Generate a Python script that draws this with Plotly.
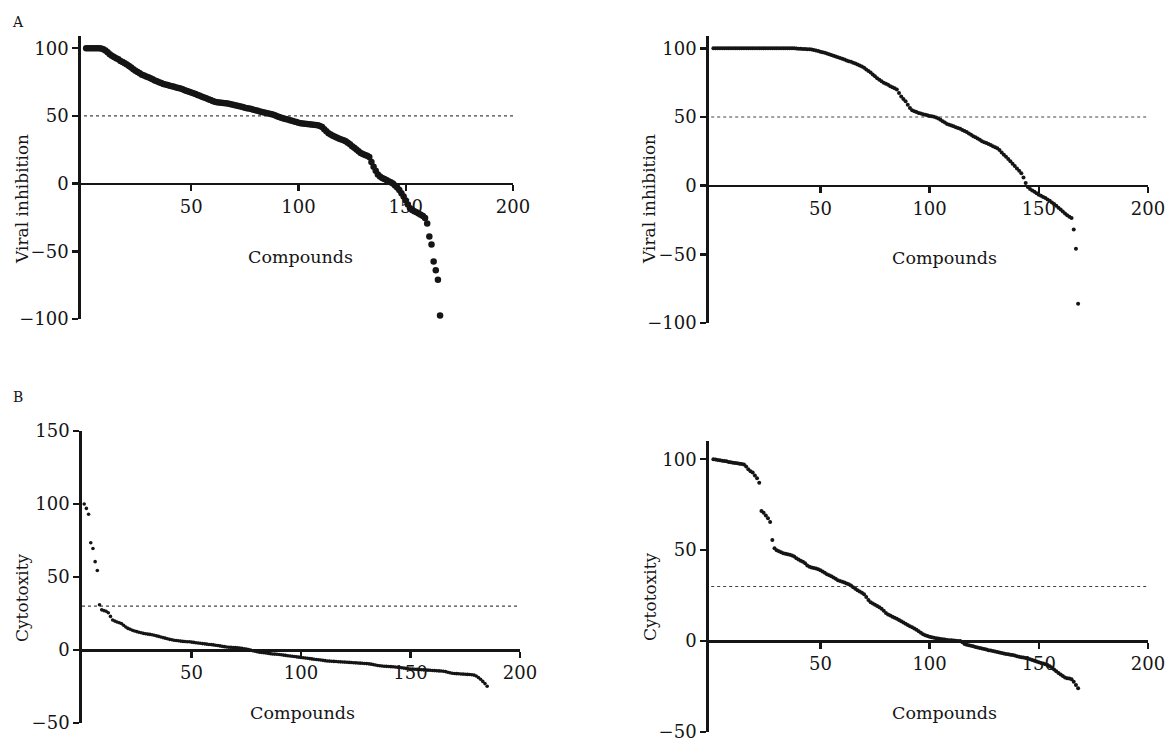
import plotly.graph_objects as go

# ---------------- DATA ----------------
compounds_label = "Compounds"
viral_title = "Viral inhibition"
cyto_title = "Cytotoxity"
panel_letters = ["A", "B"]

x_ticks = [50, 100, 150, 200]
viral_y_ticks = [-100, -50, 0, 50, 100]
cyto_left_y_ticks = [-50, 0, 50, 100, 150]
cyto_right_y_ticks = [-50, 0, 50, 100]

viral_threshold = 50
cyto_threshold = 30

viral_left = [
    100, 100, 100, 100, 100, 100, 100, 99.8, 99.3, 98.3,
    97.0, 95.5, 94.5, 93.5, 92.6, 91.8, 90.6, 89.8, 88.9, 87.9,
    86.8, 85.7, 84.5, 83.3, 82.5, 81.4, 80.4, 79.8, 79.1, 78.5,
    77.8, 77.0, 76.2, 75.5, 74.8, 74.2, 73.6, 73.2, 72.8, 72.3,
    71.9, 71.5, 71.0, 70.6, 70.2, 69.6, 69.0, 68.4, 67.8, 67.3,
    66.7, 66.1, 65.5, 64.8, 64.2, 63.6, 63.0, 62.3, 61.7, 61.0,
    60.4, 60.1, 59.9, 59.7, 59.5, 59.4, 59.1, 58.7, 58.4, 58.0,
    57.7, 57.3, 56.9, 56.5, 56.1, 55.7, 55.4, 55.0, 54.6, 54.2,
    53.8, 53.3, 52.9, 52.5, 52.2, 51.8, 51.4, 51.0, 50.5, 49.8,
    49.1, 48.6, 48.1, 47.7, 47.3, 46.8, 46.4, 45.9, 45.4, 45.0,
    44.6, 44.4, 44.2, 44.0, 43.8, 43.6, 43.4, 43.2, 43.0, 42.6,
    41.8, 40.2, 38.6, 37.2, 36.2, 35.4, 34.6, 33.8, 33.2, 32.6,
    32.0, 31.2, 30.2, 29.0, 27.6, 26.4, 25.2, 23.8, 22.6, 21.8,
    21.2, 20.6, 19.6, 16.0, 12.5, 9.5, 6.8, 5.2, 4.2, 3.4,
    2.6, 1.8, 1.0, 0.0, -1.4, -2.8, -4.8, -7.2, -9.5, -12.5,
    -15.5, -18.2, -19.5, -20.5, -21.2, -22.0, -23.0, -24.0, -25.5, -29.5,
    -39.0, -45.0, -57.5, -64.0, -71.0, -97.5,
]

viral_right = [
    100, 100, 100, 100, 100, 100, 100, 100, 100, 100,
    100, 100, 100, 100, 100, 100, 100, 100, 100, 100,
    100, 100, 100, 100, 100, 100, 100, 100, 100, 100,
    100, 100, 100, 100, 100, 100, 100, 100, 99.9, 99.8,
    99.7, 99.6, 99.5, 99.4, 99.3, 99.1, 98.8, 98.4, 98.0, 97.6,
    97.2, 96.8, 96.3, 95.8, 95.2, 94.6, 94.0, 93.5, 93.0, 92.4,
    91.8, 91.2, 90.7, 90.2, 89.6, 89.0, 88.3, 87.6, 86.8, 85.8,
    84.6, 83.5, 82.5, 81.0, 79.6, 78.2, 77.2, 76.0, 74.9, 74.2,
    73.5, 72.4, 71.6, 70.9, 70.0, 67.5, 65.0, 63.2, 61.5, 59.0,
    56.5, 55.0, 54.2, 53.6, 53.0, 52.5, 52.1, 51.7, 51.2, 50.8,
    50.5, 50.2, 49.6, 48.9, 48.0, 47.0, 46.0, 45.0, 44.3, 43.8,
    43.2, 42.6, 42.0, 41.4, 40.6, 39.8, 39.0, 38.0, 37.0, 36.0,
    35.2, 34.4, 33.4, 32.4, 31.6, 31.0, 30.3, 29.6, 28.8, 28.0,
    27.2, 26.0, 24.2, 22.5, 21.0, 19.4, 17.8, 16.0, 14.4, 12.6,
    10.8, 9.0, 6.0, 2.0, -1.0, -2.5, -3.5, -4.5, -5.6, -6.6,
    -7.4, -8.2, -9.0, -10.0, -11.0, -12.2, -13.4, -14.6, -16.0, -17.4,
    -18.8, -20.2, -21.6, -22.6, -23.5, -32.0, -46.0, -86.0,
]

cyto_left = [
    100, 97, 93, 73.5, 69.5, 60.5, 54.5, 31, 27.5, 27,
    26.5, 25.5, 23, 20.5, 19.8, 19.2, 18.7, 18.2, 17, 15.8,
    14.8, 14.2, 13.5, 13, 12.6, 12.2, 11.8, 11.4, 11.1, 10.9,
    10.7, 10.4, 10.1, 9.7, 9.3, 8.9, 8.5, 8.1, 7.7, 7.3,
    7.0, 6.7, 6.5, 6.3, 6.1, 5.9, 5.8, 5.7, 5.6, 5.4,
    5.2, 5.0, 4.8, 4.6, 4.4, 4.2, 4.0, 3.8, 3.7, 3.5,
    3.3, 3.1, 2.8, 2.5, 2.3, 2.1, 1.9, 1.8, 1.7, 1.6,
    1.5, 1.3, 1.1, 0.9, 0.6, 0.3, -0.1, -0.5, -0.9, -1.2,
    -1.5, -1.7, -1.9, -2.1, -2.3, -2.5, -2.7, -2.8, -2.9, -3.1,
    -3.3, -3.5, -3.7, -3.9, -4.1, -4.3, -4.5, -4.7, -4.9, -5.1,
    -5.3, -5.5, -5.7, -5.9, -6.1, -6.3, -6.5, -6.7, -6.9, -7.1,
    -7.3, -7.5, -7.6, -7.7, -7.8, -7.9, -8.0, -8.1, -8.2, -8.3,
    -8.4, -8.5, -8.6, -8.7, -8.8, -8.9, -9.0, -9.1, -9.2, -9.3,
    -9.5, -9.7, -10.0, -10.3, -10.6, -10.8, -11.0, -11.1, -11.2, -11.3,
    -11.4, -11.5, -11.6, -11.8, -12.0, -12.2, -12.4, -12.6, -12.8, -13.0,
    -13.1, -13.2, -13.3, -13.4, -13.5, -13.6, -13.7, -13.8, -13.9, -14.0,
    -14.1, -14.2, -14.3, -14.4, -14.6, -14.8, -15.2, -15.6, -15.9, -16.1,
    -16.2, -16.3, -16.4, -16.5, -16.6, -16.7, -16.8, -17.0, -17.2, -17.8,
    -18.8, -20.0, -21.5, -23.0, -24.8,
]

cyto_right = [
    100, 99.8, 99.6, 99.4, 99.2, 99.0, 98.8, 98.5, 98.3, 98.1,
    97.9, 97.7, 97.5, 97.3, 97.1, 96.0, 94.5, 93.3, 92.7, 91.0,
    89.5, 87.0, 71.5, 70.5, 69.0, 67.5, 65.5, 55.5, 51.0, 50.0,
    49.4, 48.8, 48.3, 48.0, 47.7, 47.4, 47.0, 46.5, 45.6, 44.8,
    44.2, 43.6, 42.8, 41.5, 40.8, 40.5, 40.2, 39.9, 39.5, 38.9,
    38.2, 37.5, 36.8, 36.2, 35.6, 35.0, 34.2, 33.5, 33.0, 32.6,
    32.2, 31.7, 31.2, 30.5, 29.6, 28.8, 28.0, 27.3, 26.6, 25.8,
    24.2, 22.6, 21.4, 20.6, 20.0, 19.3, 18.6, 17.8, 16.6, 15.4,
    14.6, 14.0, 13.4, 12.8, 12.2, 11.6, 10.9, 10.2, 9.5, 8.8,
    8.2, 7.6, 6.9, 6.2, 5.4, 4.6, 3.8, 3.2, 2.8, 2.4,
    2.1, 1.8, 1.6, 1.4, 1.2, 1.0, 0.8, 0.6, 0.5, 0.4,
    0.3, 0.2, 0.1, 0.0, -0.6, -1.6, -2.0, -2.3, -2.6, -2.9,
    -3.2, -3.5, -3.8, -4.1, -4.4, -4.7, -5.0, -5.2, -5.4, -5.7,
    -6.0, -6.3, -6.6, -6.9, -7.1, -7.3, -7.5, -7.7, -8.0, -8.3,
    -8.6, -8.9, -9.1, -9.3, -9.6, -10.0, -10.4, -10.8, -11.2, -11.6,
    -12.0, -12.4, -12.8, -13.2, -13.8, -14.6, -15.6, -16.6, -17.6, -18.4,
    -19.2, -20.0, -20.4, -20.6, -21.0, -22.4, -24.2, -26.0,
]

# ---------------- LAYOUT ----------------
W, H = 1167, 739
FONT = "DejaVu Serif"
INK = "#151515"


def fx(px):
    return px / W


def fy(py):
    return 1 - py / H


# each panel: x pixel span, y pixel span (top, bottom), x range, y range
panels = [
    dict(series=viral_left, xpx=(81, 513), ypx=(36, 319), xr=(-1.4, 200), yr=(-100, 109),
         yt=viral_y_ticks, thr=viral_threshold, msize=6.5, ytitle=viral_title,
         ytitle_pos=(22, 199), xtitle_pos=(300, 257)),
    dict(series=viral_right, xpx=(709, 1148), ypx=(36, 323), xr=(-1, 200), yr=(-100, 109),
         yt=viral_y_ticks, thr=viral_threshold, msize=4.0, ytitle=viral_title,
         ytitle_pos=(649, 199), xtitle_pos=(944, 258)),
    dict(series=cyto_left, xpx=(82, 520), ypx=(431, 723), xr=(0, 200), yr=(-50, 150),
         yt=cyto_left_y_ticks, thr=cyto_threshold, msize=3.6, ytitle=cyto_title,
         ytitle_pos=(22, 598), xtitle_pos=(302, 713)),
    dict(series=cyto_right, xpx=(709, 1148), ypx=(441, 732), xr=(-1, 200), yr=(-50, 110),
         yt=cyto_right_y_ticks, thr=cyto_threshold, msize=4.0, ytitle=cyto_title,
         ytitle_pos=(650, 597), xtitle_pos=(944, 713)),
]

fig = go.Figure()
layout = dict(
    width=W, height=H, autosize=False,
    margin=dict(l=0, r=0, t=0, b=0, pad=0, autoexpand=False),
    paper_bgcolor="white", plot_bgcolor="white",
    showlegend=False,
    font=dict(family=FONT, size=17, color=INK),
)
shapes = []
annotations = []

for i, p in enumerate(panels, start=1):
    sfx = "" if i == 1 else str(i)
    xa, ya = f"x{sfx}", f"y{sfx}"
    xs = list(range(1, len(p["series"]) + 1))
    fig.add_trace(go.Scatter(
        x=xs, y=p["series"], mode="markers", xaxis=xa, yaxis=ya,
        marker=dict(size=p["msize"], color=INK, line=dict(width=0)),
        hoverinfo="skip", cliponaxis=False,
    ))
    xdom = [fx(p["xpx"][0]), fx(p["xpx"][1])]
    ydom = [fy(p["ypx"][1]), fy(p["ypx"][0])]
    y0, y1 = p["yr"]
    zero_pos = ydom[0] + (0 - y0) / (y1 - y0) * (ydom[1] - ydom[0])
    layout[f"xaxis{sfx}"] = dict(
        domain=xdom, range=list(p["xr"]), autorange=False, automargin=False,
        anchor="free", position=zero_pos,
        showline=True, linecolor=INK, linewidth=2.8,
        ticks="outside", ticklen=6, tickwidth=2.4, tickcolor=INK,
        tickmode="array", tickvals=x_ticks, ticklabeloverflow="allow",
        showgrid=False, zeroline=False,
        tickfont=dict(family=FONT, size=18, color=INK),
    )
    layout[f"yaxis{sfx}"] = dict(
        domain=ydom, range=list(p["yr"]), autorange=False, automargin=False,
        anchor=xa,
        showline=True, linecolor=INK, linewidth=2.8,
        ticks="outside", ticklen=6, tickwidth=2.4, tickcolor=INK,
        tickmode="array", tickvals=p["yt"], ticklabeloverflow="allow",
        showgrid=False, zeroline=False,
        tickfont=dict(family=FONT, size=18, color=INK),
    )
    shapes.append(dict(
        type="line", xref=xa, yref=ya, x0=0, x1=200, y0=p["thr"], y1=p["thr"],
        line=dict(color="#444", width=1.2, dash="dot"), layer="below",
    ))
    annotations.append(dict(
        text=p["ytitle"], textangle=-90, showarrow=False,
        xref="paper", yref="paper", x=fx(p["ytitle_pos"][0]), y=fy(p["ytitle_pos"][1]),
        xanchor="center", yanchor="middle", font=dict(family=FONT, size=17, color=INK),
    ))
    annotations.append(dict(
        text=compounds_label, showarrow=False,
        xref="paper", yref="paper", x=fx(p["xtitle_pos"][0]), y=fy(p["xtitle_pos"][1]),
        xanchor="center", yanchor="middle", font=dict(family=FONT, size=17.5, color=INK),
    ))

annotations.append(dict(text=panel_letters[0], showarrow=False, xref="paper", yref="paper",
                        x=fx(18), y=fy(22), xanchor="center", yanchor="middle",
                        font=dict(family=FONT, size=14, color=INK)))
annotations.append(dict(text=panel_letters[1], showarrow=False, xref="paper", yref="paper",
                        x=fx(18), y=fy(397), xanchor="center", yanchor="middle",
                        font=dict(family=FONT, size=14, color=INK)))

layout["shapes"] = shapes
layout["annotations"] = annotations
fig.update_layout(**layout)
fig.write_html(
    "out.html",
    config={"responsive": False, "displayModeBar": False, "staticPlot": True},
    post_script="document.body.style.margin='0';document.body.style.overflow='hidden';",
)
